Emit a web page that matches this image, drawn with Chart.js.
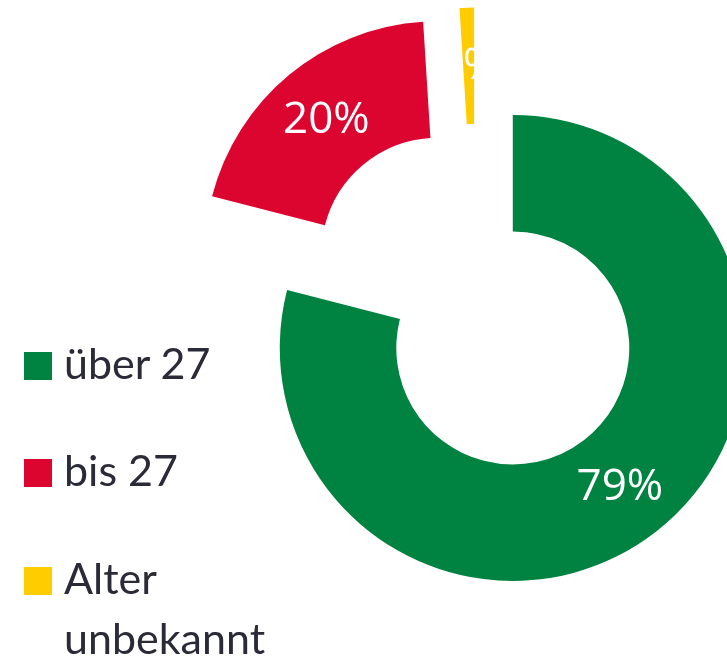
<!DOCTYPE html>
<html lang="de">
<head>
<meta charset="utf-8">
<title>Alter</title>
<script src="https://cdn.jsdelivr.net/npm/chart.js@4/dist/chart.umd.min.js"></script>
<style>
  html, body { margin: 0; padding: 0; background: #fff; overflow: hidden; }
  body { width: 727px; height: 661px; position: relative; }
  #chartWrap { position: absolute; left: 126px; top: 0; width: 700px; height: 601px; }
  #legend { position: absolute; left: 24px; top: 0; z-index: 2; }
  .item { position: absolute; left: 0; width: 300px; }
  .box { position: absolute; left: 0; top: 19px; width: 28px; height: 28px; }
  .txt { margin-left: 40px; width: 240px; font-family: Lato, sans-serif; font-size: 43px;
         line-height: 60px; color: #2b2b38; }
</style>
</head>
<body>
<div id="legend"></div>
<div id="chartWrap"><canvas id="ageChart"></canvas></div>
<script>
// ── Data ─────────────────────────────────────────────────────────────────────

const labels = ['über 27', 'bis 27', 'Alter unbekannt'];
const values = [79, 20, 1];
const valueLabels = ['79%', '20%', '1%'];
const colors = ['#008240', '#dc0530', '#ffcc00'];

// every slice is pulled out from the centre by this many pixels
const PULL_OUT = 60;

// ── HTML legend ──────────────────────────────────────────────────────────────

function buildLegend(el) {
  const tops = [333, 440, 548];
  labels.forEach((label, i) => {
    const item = document.createElement('div');
    item.className = 'item';
    item.style.top = tops[i] + 'px';
    item.innerHTML = `<span class="box" style="background:${colors[i]}"></span><div class="txt">${label}</div>`;
    el.appendChild(item);
  });
}

// ── Pulled-out slices ────────────────────────────────────────────────────────
// Chart.js' own `offset` also trims the angle and grows the radius of an arc,
// so draw the arcs ourselves, each shifted along its bisector.

const pullOut = {
  id: 'pullOut',
  beforeDatasetDraw(chart, args) {
    const {ctx} = chart;
    args.meta.data.forEach(arc => {
      const mid = (arc.startAngle + arc.endAngle) / 2;
      ctx.save();
      ctx.translate(Math.cos(mid) * PULL_OUT, Math.sin(mid) * PULL_OUT);
      arc.draw(ctx, chart.chartArea);
      ctx.restore();
    });
    return false;
  }
};

// ── Slice value labels ───────────────────────────────────────────────────────

const sliceLabels = {
  id: 'sliceLabels',
  afterDatasetsDraw(chart) {
    const {ctx} = chart;
    const meta = chart.getDatasetMeta(0);
    ctx.save();
    ctx.font = '44px "Open Sans", sans-serif';
    ctx.fillStyle = '#ffffff';
    ctx.textAlign = 'center';
    ctx.textBaseline = 'middle';
    meta.data.forEach((arc, i) => {
      const mid = (arc.startAngle + arc.endAngle) / 2;
      const r = PULL_OUT + (arc.innerRadius + arc.outerRadius) / 2;
      ctx.fillText(valueLabels[i], arc.x + Math.cos(mid) * r, arc.y + Math.sin(mid) * r + 1);
    });
    ctx.restore();
  }
};

// ── Doughnut ─────────────────────────────────────────────────────────────────

function createAgeChart(canvasId) {
  const canvas = document.getElementById(canvasId);
  if (!canvas) return null;

  return new Chart(canvas, {
    type: 'doughnut',
    data: {
      labels: labels,
      datasets: [{
        data: values,
        backgroundColor: colors,
        borderWidth: 0,
        hoverOffset: 0,
      }]
    },
    options: {
      responsive: true,
      maintainAspectRatio: false,
      animation: false,
      radius: 233,
      cutout: '50%',
      events: [],
      plugins: {
        legend: { display: false },
        tooltip: { enabled: false }
      }
    },
    plugins: [pullOut, sliceLabels]
  });
}

buildLegend(document.getElementById('legend'));
createAgeChart('ageChart');
</script>
</body>
</html>
